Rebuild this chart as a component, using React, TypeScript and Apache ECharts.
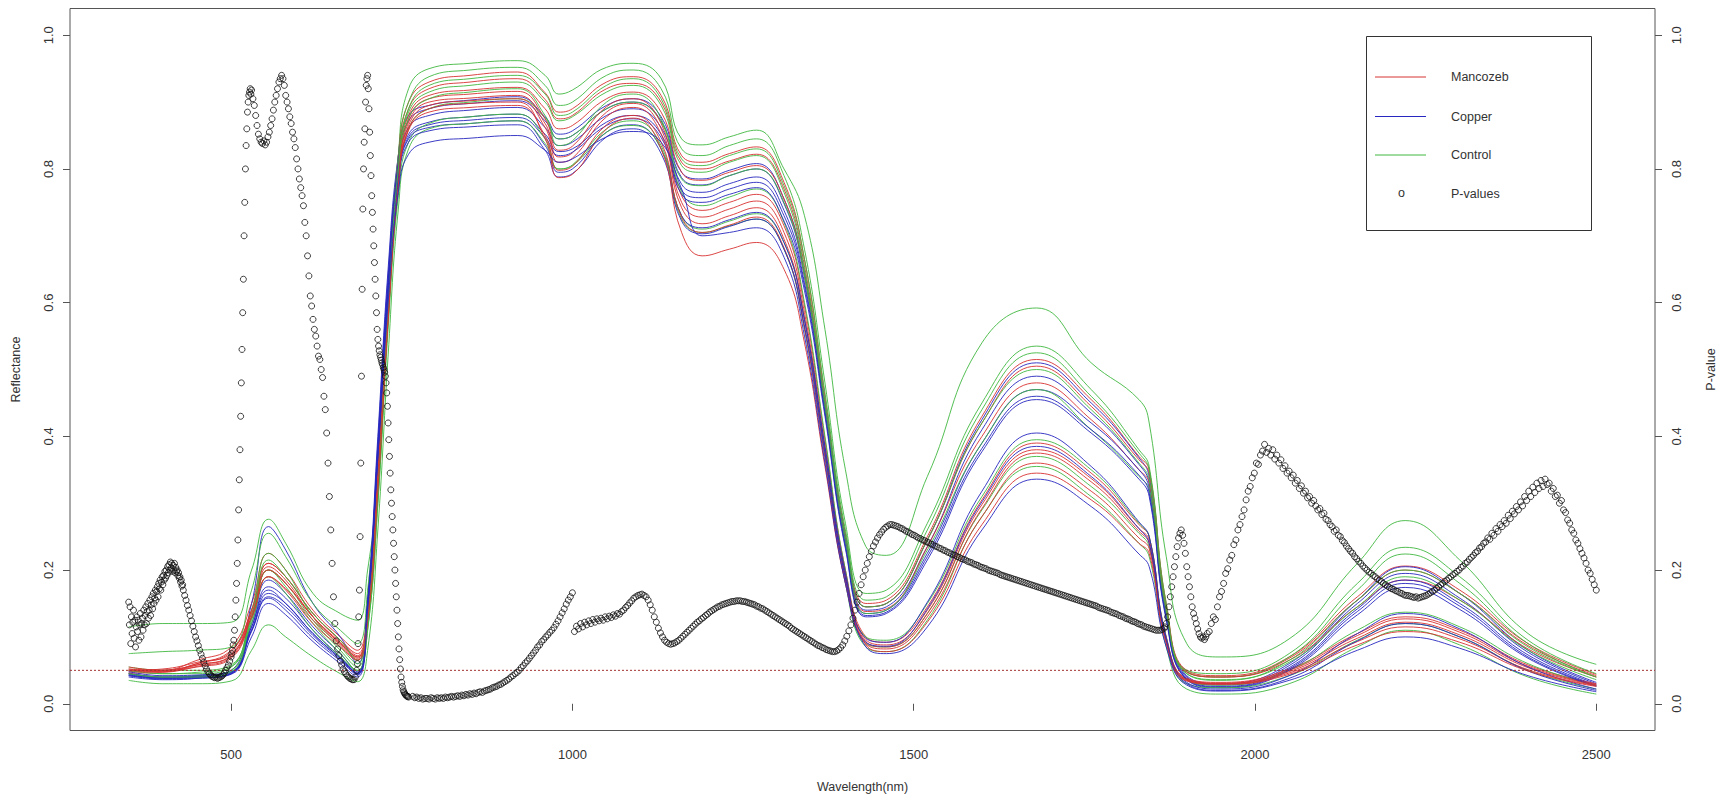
import React, { useEffect, useRef } from "react";
import * as echarts from "echarts";

// Wavelength knots (nm) at which each reflectance curve was read
const WAVELENGTHS = [350, 400, 450, 500, 530, 555, 580, 620, 660, 685, 700, 715, 730, 745, 760, 790, 850, 920, 960, 980, 1000, 1050, 1090, 1130, 1160, 1190, 1230, 1270, 1310, 1340, 1370, 1400, 1430, 1460, 1520, 1600, 1680, 1760, 1830, 1845, 1870, 1900, 1950, 2050, 2150, 2220, 2300, 2400, 2500];

const CONTROL = [
  [0.115, 0.12, 0.12, 0.122, 0.2, 0.276, 0.24, 0.165, 0.135, 0.125, 0.2, 0.33, 0.58, 0.82, 0.92, 0.95, 0.958, 0.962, 0.94, 0.912, 0.918, 0.952, 0.958, 0.935, 0.845, 0.836, 0.848, 0.858, 0.8, 0.73, 0.56, 0.35, 0.235, 0.222, 0.34, 0.54, 0.592, 0.51, 0.455, 0.42, 0.22, 0.09, 0.07, 0.097, 0.21, 0.274, 0.215, 0.105, 0.059],
  [0.075, 0.078, 0.08, 0.085, 0.17, 0.255, 0.22, 0.15, 0.11, 0.09, 0.17, 0.36, 0.62, 0.82, 0.9, 0.938, 0.948, 0.952, 0.925, 0.895, 0.9, 0.94, 0.948, 0.92, 0.83, 0.82, 0.835, 0.845, 0.79, 0.68, 0.48, 0.27, 0.165, 0.17, 0.27, 0.45, 0.535, 0.47, 0.38, 0.355, 0.15, 0.05, 0.045, 0.075, 0.18, 0.234, 0.19, 0.095, 0.045],
  [0.05, 0.045, 0.045, 0.055, 0.14, 0.225, 0.2, 0.13, 0.085, 0.06, 0.13, 0.33, 0.6, 0.8, 0.89, 0.925, 0.935, 0.94, 0.912, 0.88, 0.885, 0.925, 0.935, 0.905, 0.815, 0.805, 0.82, 0.83, 0.775, 0.665, 0.465, 0.26, 0.155, 0.16, 0.26, 0.44, 0.525, 0.46, 0.375, 0.35, 0.145, 0.048, 0.04, 0.07, 0.17, 0.224, 0.18, 0.09, 0.04],
  [0.055, 0.05, 0.05, 0.058, 0.13, 0.2, 0.18, 0.125, 0.08, 0.055, 0.12, 0.31, 0.57, 0.77, 0.86, 0.89, 0.9, 0.905, 0.876, 0.845, 0.85, 0.89, 0.9, 0.87, 0.785, 0.775, 0.79, 0.8, 0.75, 0.64, 0.44, 0.24, 0.135, 0.14, 0.23, 0.39, 0.47, 0.41, 0.34, 0.32, 0.13, 0.045, 0.036, 0.062, 0.145, 0.19, 0.155, 0.08, 0.036],
  [0.045, 0.04, 0.042, 0.05, 0.12, 0.19, 0.165, 0.11, 0.07, 0.05, 0.11, 0.3, 0.58, 0.79, 0.875, 0.905, 0.915, 0.92, 0.88, 0.835, 0.842, 0.9, 0.912, 0.875, 0.765, 0.745, 0.758, 0.77, 0.72, 0.6, 0.4, 0.2, 0.1, 0.095, 0.15, 0.31, 0.395, 0.35, 0.27, 0.25, 0.1, 0.035, 0.028, 0.05, 0.11, 0.137, 0.115, 0.06, 0.027],
  [0.05, 0.045, 0.047, 0.055, 0.125, 0.2, 0.175, 0.12, 0.075, 0.05, 0.11, 0.3, 0.56, 0.76, 0.84, 0.868, 0.878, 0.882, 0.845, 0.8, 0.806, 0.86, 0.872, 0.835, 0.73, 0.71, 0.722, 0.733, 0.69, 0.575, 0.38, 0.19, 0.09, 0.085, 0.135, 0.29, 0.37, 0.325, 0.255, 0.235, 0.095, 0.03, 0.024, 0.042, 0.095, 0.12, 0.1, 0.05, 0.022],
  [0.035, 0.03, 0.03, 0.034, 0.08, 0.118, 0.1, 0.07, 0.045, 0.033, 0.08, 0.26, 0.52, 0.74, 0.83, 0.86, 0.868, 0.872, 0.838, 0.8, 0.805, 0.855, 0.865, 0.83, 0.725, 0.705, 0.715, 0.725, 0.68, 0.56, 0.37, 0.18, 0.085, 0.078, 0.125, 0.28, 0.355, 0.31, 0.24, 0.22, 0.085, 0.022, 0.0145, 0.03, 0.085, 0.11, 0.088, 0.04, 0.0145],
  [0.045, 0.04, 0.04, 0.048, 0.13, 0.215, 0.19, 0.135, 0.095, 0.065, 0.13, 0.32, 0.59, 0.8, 0.885, 0.915, 0.925, 0.93, 0.9, 0.872, 0.878, 0.915, 0.925, 0.895, 0.805, 0.795, 0.81, 0.82, 0.765, 0.65, 0.45, 0.25, 0.145, 0.15, 0.245, 0.42, 0.5, 0.44, 0.36, 0.335, 0.14, 0.045, 0.035, 0.065, 0.155, 0.2, 0.165, 0.085, 0.04],
];

const MANCOZEB = [
  [0.05, 0.05, 0.065, 0.085, 0.15, 0.225, 0.2, 0.14, 0.1, 0.08, 0.15, 0.36, 0.62, 0.82, 0.9, 0.93, 0.94, 0.945, 0.914, 0.885, 0.89, 0.93, 0.938, 0.91, 0.82, 0.81, 0.823, 0.833, 0.78, 0.665, 0.46, 0.255, 0.15, 0.155, 0.25, 0.43, 0.515, 0.455, 0.37, 0.35, 0.15, 0.05, 0.042, 0.07, 0.16, 0.206, 0.17, 0.09, 0.044],
  [0.052, 0.048, 0.06, 0.078, 0.14, 0.21, 0.19, 0.135, 0.095, 0.075, 0.14, 0.35, 0.61, 0.81, 0.89, 0.92, 0.93, 0.935, 0.904, 0.875, 0.88, 0.92, 0.928, 0.9, 0.81, 0.8, 0.812, 0.822, 0.77, 0.655, 0.45, 0.25, 0.145, 0.15, 0.245, 0.42, 0.505, 0.445, 0.365, 0.345, 0.145, 0.048, 0.04, 0.068, 0.155, 0.2, 0.165, 0.087, 0.042],
  [0.048, 0.05, 0.058, 0.072, 0.135, 0.205, 0.185, 0.13, 0.09, 0.07, 0.14, 0.34, 0.6, 0.8, 0.88, 0.91, 0.918, 0.922, 0.89, 0.86, 0.865, 0.905, 0.915, 0.885, 0.795, 0.783, 0.795, 0.805, 0.755, 0.64, 0.44, 0.24, 0.138, 0.142, 0.235, 0.4, 0.48, 0.425, 0.35, 0.33, 0.14, 0.047, 0.04, 0.065, 0.145, 0.185, 0.155, 0.082, 0.04],
  [0.055, 0.05, 0.055, 0.068, 0.13, 0.2, 0.18, 0.13, 0.09, 0.068, 0.13, 0.33, 0.59, 0.79, 0.875, 0.905, 0.912, 0.916, 0.875, 0.828, 0.834, 0.893, 0.905, 0.868, 0.76, 0.738, 0.75, 0.762, 0.715, 0.595, 0.395, 0.2, 0.1, 0.092, 0.145, 0.305, 0.39, 0.345, 0.268, 0.25, 0.1, 0.038, 0.032, 0.052, 0.105, 0.13, 0.11, 0.058, 0.03],
  [0.05, 0.052, 0.062, 0.075, 0.14, 0.21, 0.19, 0.135, 0.095, 0.072, 0.13, 0.33, 0.585, 0.785, 0.87, 0.9, 0.906, 0.91, 0.868, 0.818, 0.824, 0.885, 0.898, 0.86, 0.75, 0.728, 0.74, 0.752, 0.705, 0.585, 0.385, 0.195, 0.096, 0.088, 0.14, 0.298, 0.38, 0.337, 0.262, 0.245, 0.098, 0.037, 0.031, 0.05, 0.102, 0.127, 0.107, 0.056, 0.029],
  [0.046, 0.047, 0.056, 0.07, 0.128, 0.19, 0.172, 0.125, 0.088, 0.066, 0.125, 0.325, 0.58, 0.78, 0.865, 0.895, 0.902, 0.905, 0.862, 0.81, 0.816, 0.878, 0.892, 0.852, 0.742, 0.718, 0.73, 0.742, 0.695, 0.575, 0.378, 0.19, 0.093, 0.085, 0.135, 0.292, 0.375, 0.332, 0.258, 0.24, 0.095, 0.036, 0.03, 0.048, 0.098, 0.122, 0.103, 0.054, 0.028],
  [0.052, 0.05, 0.06, 0.08, 0.135, 0.2, 0.18, 0.13, 0.092, 0.07, 0.125, 0.32, 0.575, 0.775, 0.858, 0.885, 0.892, 0.895, 0.85, 0.798, 0.804, 0.866, 0.88, 0.84, 0.728, 0.705, 0.716, 0.728, 0.682, 0.562, 0.368, 0.185, 0.09, 0.082, 0.13, 0.28, 0.36, 0.318, 0.248, 0.232, 0.092, 0.035, 0.03, 0.046, 0.093, 0.115, 0.097, 0.051, 0.027],
  [0.05, 0.048, 0.058, 0.073, 0.13, 0.19, 0.17, 0.12, 0.085, 0.065, 0.125, 0.32, 0.575, 0.775, 0.86, 0.89, 0.898, 0.9, 0.845, 0.787, 0.792, 0.86, 0.876, 0.83, 0.705, 0.67, 0.68, 0.69, 0.65, 0.54, 0.355, 0.18, 0.088, 0.078, 0.122, 0.268, 0.345, 0.305, 0.24, 0.225, 0.09, 0.034, 0.029, 0.044, 0.088, 0.108, 0.092, 0.049, 0.026],
];

const COPPER = [
  [0.045, 0.04, 0.042, 0.05, 0.15, 0.265, 0.23, 0.15, 0.1, 0.06, 0.16, 0.4, 0.65, 0.82, 0.88, 0.895, 0.903, 0.908, 0.878, 0.852, 0.857, 0.895, 0.905, 0.878, 0.795, 0.785, 0.798, 0.808, 0.755, 0.645, 0.45, 0.25, 0.145, 0.15, 0.245, 0.425, 0.51, 0.45, 0.368, 0.34, 0.14, 0.042, 0.03, 0.06, 0.155, 0.205, 0.165, 0.08, 0.032],
  [0.042, 0.038, 0.04, 0.047, 0.12, 0.185, 0.165, 0.115, 0.075, 0.048, 0.15, 0.39, 0.64, 0.81, 0.872, 0.89, 0.898, 0.902, 0.872, 0.845, 0.85, 0.89, 0.9, 0.872, 0.787, 0.776, 0.79, 0.8, 0.748, 0.64, 0.445, 0.245, 0.14, 0.145, 0.235, 0.41, 0.49, 0.435, 0.358, 0.33, 0.135, 0.04, 0.028, 0.057, 0.15, 0.195, 0.158, 0.077, 0.03],
  [0.04, 0.036, 0.038, 0.045, 0.115, 0.175, 0.158, 0.11, 0.07, 0.045, 0.15, 0.38, 0.63, 0.8, 0.862, 0.88, 0.888, 0.892, 0.862, 0.835, 0.84, 0.88, 0.89, 0.862, 0.777, 0.765, 0.778, 0.788, 0.738, 0.63, 0.44, 0.24, 0.135, 0.14, 0.225, 0.39, 0.47, 0.42, 0.35, 0.322, 0.13, 0.038, 0.026, 0.054, 0.142, 0.185, 0.15, 0.073, 0.028],
  [0.043, 0.039, 0.04, 0.046, 0.11, 0.165, 0.15, 0.105, 0.068, 0.045, 0.145, 0.37, 0.62, 0.79, 0.852, 0.87, 0.878, 0.882, 0.852, 0.826, 0.83, 0.87, 0.88, 0.852, 0.768, 0.757, 0.77, 0.78, 0.73, 0.625, 0.435, 0.235, 0.132, 0.137, 0.22, 0.382, 0.46, 0.41, 0.342, 0.315, 0.128, 0.037, 0.025, 0.052, 0.138, 0.18, 0.146, 0.07, 0.027],
  [0.046, 0.04, 0.041, 0.047, 0.11, 0.16, 0.145, 0.102, 0.066, 0.044, 0.145, 0.37, 0.615, 0.785, 0.848, 0.866, 0.873, 0.877, 0.847, 0.82, 0.825, 0.865, 0.875, 0.847, 0.762, 0.75, 0.762, 0.772, 0.722, 0.618, 0.43, 0.232, 0.13, 0.135, 0.215, 0.377, 0.455, 0.405, 0.336, 0.31, 0.125, 0.036, 0.024, 0.05, 0.133, 0.174, 0.141, 0.068, 0.026],
  [0.048, 0.042, 0.043, 0.048, 0.115, 0.17, 0.15, 0.105, 0.068, 0.046, 0.15, 0.38, 0.62, 0.785, 0.845, 0.862, 0.868, 0.872, 0.835, 0.795, 0.8, 0.855, 0.866, 0.83, 0.73, 0.712, 0.724, 0.735, 0.69, 0.575, 0.385, 0.195, 0.098, 0.092, 0.152, 0.318, 0.405, 0.355, 0.272, 0.25, 0.098, 0.032, 0.022, 0.042, 0.105, 0.135, 0.112, 0.055, 0.022],
  [0.044, 0.038, 0.039, 0.045, 0.108, 0.158, 0.14, 0.098, 0.064, 0.043, 0.145, 0.375, 0.615, 0.78, 0.84, 0.857, 0.863, 0.866, 0.828, 0.788, 0.793, 0.848, 0.86, 0.823, 0.722, 0.703, 0.714, 0.725, 0.68, 0.565, 0.375, 0.188, 0.092, 0.086, 0.142, 0.302, 0.385, 0.34, 0.262, 0.24, 0.094, 0.03, 0.02, 0.038, 0.094, 0.12, 0.1, 0.049, 0.02],
  [0.042, 0.037, 0.038, 0.044, 0.1, 0.15, 0.133, 0.093, 0.06, 0.04, 0.14, 0.37, 0.6, 0.765, 0.822, 0.84, 0.846, 0.85, 0.828, 0.81, 0.815, 0.848, 0.856, 0.84, 0.77, 0.7, 0.705, 0.712, 0.668, 0.55, 0.36, 0.18, 0.085, 0.075, 0.115, 0.26, 0.336, 0.295, 0.224, 0.205, 0.085, 0.028, 0.019, 0.035, 0.08, 0.1, 0.083, 0.042, 0.018],
];

// P-values, read in runs: first wavelength, step (nm), values
const P_350 = [0.152, 0.118, 0.145, 0.09, 0.13, 0.105, 0.122, 0.14, 0.098, 0.125, 0.085, 0.115, 0.13, 0.108, 0.125, 0.095, 0.118, 0.135, 0.1, 0.12, 0.128, 0.11, 0.14, 0.118, 0.132, 0.145, 0.12, 0.138, 0.15, 0.128, 0.14, 0.155, 0.132, 0.148, 0.16, 0.142, 0.165, 0.15, 0.158, 0.17, 0.155, 0.168, 0.175, 0.16, 0.18, 0.172, 0.185, 0.17, 0.182, 0.19, 0.178, 0.192, 0.185, 0.198, 0.188, 0.2, 0.192, 0.205, 0.196, 0.208, 0.2, 0.212, 0.203, 0.21, 0.198, 0.207, 0.2, 0.21, 0.196, 0.204, 0.198, 0.2, 0.192, 0.196, 0.188, 0.19, 0.182, 0.185, 0.176, 0.178, 0.17];
const P_432 = [0.162, 0.155, 0.147, 0.14, 0.132, 0.124, 0.116, 0.108, 0.1, 0.094, 0.087, 0.08, 0.074, 0.068, 0.062, 0.057, 0.052, 0.048, 0.045, 0.043, 0.041, 0.04, 0.039, 0.04, 0.038, 0.039, 0.04, 0.041, 0.043, 0.046, 0.05, 0.054, 0.058, 0.064, 0.07];
const P_501 = [0.075, 0.08, 0.088, 0.095, 0.11, 0.13, 0.155, 0.18, 0.21, 0.245, 0.29, 0.335, 0.38, 0.43, 0.48, 0.53, 0.585, 0.635, 0.7, 0.75, 0.8, 0.835, 0.86, 0.885, 0.9, 0.91, 0.915, 0.92, 0.912, 0.918];
const P_532 = [0.905, 0.895, 0.88, 0.865, 0.852, 0.845, 0.84, 0.838, 0.842, 0.836, 0.84, 0.848, 0.855, 0.865, 0.875, 0.888, 0.9, 0.91, 0.92, 0.93, 0.935, 0.94, 0.935, 0.925, 0.91, 0.9, 0.89, 0.878, 0.868, 0.855, 0.845, 0.832, 0.815, 0.8, 0.785, 0.772, 0.76, 0.745, 0.72, 0.7, 0.67, 0.64, 0.61, 0.595, 0.575, 0.56, 0.55, 0.535, 0.52, 0.515, 0.5, 0.488, 0.46, 0.44, 0.405, 0.36, 0.31, 0.26, 0.21, 0.16, 0.12, 0.094, 0.082, 0.072, 0.064, 0.058, 0.052, 0.048, 0.045, 0.042, 0.04, 0.038, 0.037, 0.036, 0.036, 0.04, 0.05];
const P_685 = [0.06, 0.09, 0.13, 0.17, 0.25, 0.36, 0.49, 0.62, 0.74, 0.8, 0.84, 0.86, 0.9, 0.925, 0.935, 0.94, 0.92, 0.89, 0.855, 0.82, 0.79, 0.76, 0.735, 0.71, 0.685, 0.66, 0.635, 0.61, 0.585, 0.56, 0.545, 0.535, 0.528, 0.522, 0.518, 0.514, 0.51, 0.507, 0.503, 0.5, 0.496, 0.49, 0.48, 0.465, 0.445, 0.42, 0.395, 0.37, 0.345, 0.32, 0.3, 0.28, 0.26, 0.24, 0.22, 0.2, 0.18, 0.16, 0.14, 0.12, 0.1, 0.082, 0.066, 0.052, 0.04, 0.032, 0.026, 0.021, 0.018, 0.016, 0.014, 0.013, 0.012, 0.011, 0.011, 0.01];
const P_766 = [0.011, 0.009, 0.01, 0.008, 0.009, 0.007, 0.008, 0.008, 0.007, 0.009, 0.008, 0.007, 0.009, 0.008, 0.009, 0.008, 0.01, 0.009, 0.01, 0.011, 0.01, 0.011, 0.012, 0.011, 0.013, 0.012, 0.014, 0.013, 0.015, 0.014, 0.016, 0.015, 0.017, 0.018, 0.017, 0.019, 0.02, 0.021, 0.022, 0.024, 0.025, 0.026, 0.028, 0.029, 0.031, 0.033, 0.035, 0.037, 0.04, 0.042, 0.045, 0.047, 0.05, 0.054, 0.057, 0.061, 0.064, 0.068, 0.072, 0.076, 0.08, 0.085, 0.088, 0.093, 0.096, 0.1, 0.103, 0.107, 0.11, 0.114, 0.119, 0.124, 0.13, 0.136, 0.142, 0.149, 0.155, 0.16, 0.166];
const P_1003 = [0.108, 0.116, 0.112, 0.12, 0.115, 0.122, 0.118, 0.124, 0.12, 0.126, 0.122, 0.127, 0.124, 0.128, 0.125, 0.13, 0.127, 0.131, 0.129, 0.133, 0.131, 0.135, 0.134, 0.138, 0.14, 0.144, 0.147, 0.151, 0.154, 0.158, 0.16, 0.162, 0.163, 0.164, 0.162, 0.16, 0.155, 0.148, 0.14, 0.13, 0.122, 0.113, 0.106, 0.1, 0.095, 0.092, 0.09, 0.089, 0.09, 0.091];
const P_1153 = [0.093, 0.095, 0.098, 0.101, 0.104, 0.107, 0.11, 0.113, 0.116, 0.119, 0.122, 0.124, 0.127, 0.129, 0.132, 0.134, 0.137, 0.139, 0.141, 0.143, 0.145, 0.146, 0.148, 0.149, 0.15, 0.151, 0.152, 0.153, 0.153, 0.154, 0.154, 0.154, 0.153, 0.153, 0.152, 0.151, 0.15, 0.149, 0.148, 0.146, 0.145, 0.143, 0.142, 0.14, 0.138, 0.136, 0.134, 0.132, 0.13, 0.128];
const P_1303 = [0.126, 0.124, 0.122, 0.12, 0.118, 0.116, 0.113, 0.111, 0.109, 0.107, 0.105, 0.103, 0.101, 0.099, 0.097, 0.095, 0.093, 0.091, 0.089, 0.087, 0.086, 0.084, 0.083, 0.081, 0.08, 0.079, 0.078, 0.078, 0.079, 0.081, 0.084, 0.088, 0.094, 0.101, 0.109, 0.118, 0.128, 0.14, 0.152, 0.165, 0.178, 0.19, 0.2, 0.21, 0.22, 0.228, 0.236, 0.242, 0.248, 0.253];
const P_1453 = [0.257, 0.261, 0.264, 0.266, 0.268, 0.268, 0.267, 0.266, 0.265, 0.263, 0.262, 0.26, 0.258, 0.257, 0.255, 0.253, 0.252, 0.25, 0.248, 0.247, 0.245, 0.244, 0.242, 0.241, 0.239, 0.238, 0.236, 0.235, 0.233, 0.232, 0.23, 0.229, 0.227, 0.226, 0.224, 0.223, 0.222, 0.22, 0.219, 0.217, 0.216, 0.215, 0.213, 0.212, 0.211, 0.209, 0.208, 0.207, 0.205, 0.204];
const P_1603 = [0.203, 0.202, 0.2, 0.199, 0.198, 0.197, 0.196, 0.195, 0.193, 0.192, 0.191, 0.19, 0.189, 0.188, 0.187, 0.186, 0.185, 0.184, 0.183, 0.182, 0.181, 0.18, 0.179, 0.178, 0.177, 0.176, 0.175, 0.174, 0.173, 0.172, 0.171, 0.17, 0.169, 0.168, 0.167, 0.166, 0.165, 0.164, 0.163, 0.162, 0.161, 0.16, 0.159, 0.158, 0.157, 0.156, 0.155, 0.154, 0.153, 0.152];
const P_1753 = [0.151, 0.15, 0.149, 0.148, 0.147, 0.146, 0.144, 0.143, 0.142, 0.141, 0.14, 0.139, 0.137, 0.136, 0.135, 0.134, 0.132, 0.131, 0.13, 0.128, 0.127, 0.126, 0.124, 0.123, 0.122, 0.12, 0.119, 0.118, 0.116, 0.115, 0.114, 0.113, 0.112, 0.111, 0.11, 0.11, 0.11, 0.111, 0.113];
const P_1868 = [0.115, 0.12, 0.13, 0.145, 0.16, 0.175, 0.19, 0.205, 0.22, 0.235, 0.248, 0.255, 0.26, 0.252, 0.24, 0.225, 0.205, 0.19, 0.175, 0.16, 0.145, 0.135, 0.128, 0.12, 0.112, 0.105, 0.1, 0.098, 0.1, 0.096, 0.1, 0.105];
const P_1933 = [0.108, 0.12, 0.13, 0.126, 0.145, 0.16, 0.168, 0.18, 0.195, 0.202, 0.215, 0.222, 0.238, 0.245, 0.26, 0.268, 0.28, 0.29, 0.305, 0.318, 0.325, 0.338, 0.345, 0.36, 0.358, 0.372, 0.378, 0.388, 0.376, 0.382, 0.372, 0.38, 0.366, 0.372, 0.36, 0.365, 0.352, 0.356, 0.345, 0.348, 0.338, 0.342, 0.33, 0.334, 0.322, 0.326, 0.315, 0.318, 0.308, 0.31, 0.3, 0.304, 0.296, 0.29, 0.292, 0.283, 0.285, 0.276, 0.274, 0.268, 0.265, 0.258, 0.26, 0.252, 0.25, 0.244, 0.241, 0.236, 0.232, 0.228, 0.225, 0.22, 0.217, 0.213, 0.21, 0.206, 0.203, 0.2, 0.197, 0.195, 0.192, 0.19, 0.187, 0.185, 0.183, 0.18, 0.178, 0.176, 0.174, 0.172, 0.171, 0.169, 0.168, 0.166, 0.165, 0.163, 0.162, 0.162, 0.161, 0.16, 0.159, 0.16, 0.158, 0.159, 0.16, 0.161, 0.162, 0.164, 0.166, 0.168, 0.17, 0.173, 0.175, 0.178, 0.18, 0.183, 0.185, 0.188, 0.19, 0.193, 0.195, 0.198, 0.2, 0.204, 0.206, 0.21, 0.212, 0.216, 0.219, 0.222, 0.226, 0.228, 0.233, 0.235, 0.24, 0.242, 0.248, 0.246, 0.255, 0.252, 0.262, 0.258, 0.268, 0.265, 0.274, 0.27, 0.282, 0.277, 0.288, 0.284, 0.295, 0.29, 0.302, 0.296, 0.31, 0.304, 0.318, 0.31, 0.324, 0.316, 0.33, 0.322, 0.334, 0.325, 0.336, 0.328, 0.33, 0.318, 0.322, 0.31, 0.312, 0.3, 0.304, 0.29, 0.286, 0.275, 0.27, 0.26, 0.255, 0.245, 0.24, 0.232, 0.225, 0.218, 0.21, 0.2, 0.195, 0.186, 0.178, 0.17];

const P_RUNS: [number, number, number[]][] = [
  [350, 1, P_350],
  [432, 2, P_432],
  [501, 1, P_501],
  [532, 2, P_532],
  [685, 1, P_685],
  [766, 3, P_766],
  [1003, 3, P_1003],
  [1153, 3, P_1153],
  [1303, 3, P_1303],
  [1453, 3, P_1453],
  [1603, 3, P_1603],
  [1753, 3, P_1753],
  [1868, 2, P_1868],
  [1933, 3, P_1933],
];

const X_TICKS = [500, 1000, 1500, 2000, 2500];
const Y_TICKS = [0, 0.2, 0.4, 0.6, 0.8, 1.0];
const THRESHOLD = 0.05;
const X_RANGE = [264, 2586];
const Y_RANGE = [-0.04, 1.04];

const RED = "#d83232";
const BLUE = "#2828c0";
const GREEN = "#40b840";
const FONT = '"Liberation Sans", Arial, Helvetica, sans-serif';
const TEXT = "#333";

export default function App() {
  const ref = useRef<HTMLDivElement>(null);
  useEffect(() => {
    if (!ref.current) return;
    const chart = echarts.init(ref.current, null, { renderer: "svg" });

    const curve = (vals: number[], color: string, name: string) => ({
      type: "line",
      name,
      data: WAVELENGTHS.map((w, i) => [w, vals[i]]),
      smooth: 0.45,
      symbol: "none",
      silent: true,
      lineStyle: { width: 1, color, opacity: 0.9 },
      z: 2,
    });

    const curves: any[] = [];
    for (let k = 0; k < CONTROL.length; k++) {
      curves.push(curve(CONTROL[k], GREEN, "Control"));
      curves.push(curve(MANCOZEB[k], RED, "Mancozeb"));
      curves.push(curve(COPPER[k], BLUE, "Copper"));
    }

    const pPoints: number[][] = [];
    P_RUNS.forEach(([start, step, vals]) => {
      vals.forEach((v, i) => pPoints.push([start + i * step, v]));
    });

    const axisText = { color: TEXT, fontSize: 13, fontFamily: FONT };

    const legendRows = [
      { label: "Mancozeb", color: RED, y: 77 },
      { label: "Copper", color: BLUE, y: 116.5 },
      { label: "Control", color: GREEN, y: 155 },
    ];
    const graphics: any[] = [
      {
        type: "rect",
        shape: { x: 1366.5, y: 36.5, width: 225, height: 194 },
        style: { fill: "#fff", stroke: "#333", lineWidth: 1 },
        z: 100,
      },
    ];
    legendRows.forEach((r) => {
      graphics.push({
        type: "line",
        shape: { x1: 1375, y1: r.y, x2: 1426, y2: r.y },
        style: { stroke: r.color, lineWidth: 1 },
        z: 101,
      });
      graphics.push({
        type: "text",
        x: 1451,
        y: r.y,
        style: { text: r.label, fill: TEXT, fontSize: 12.5, fontFamily: FONT, verticalAlign: "middle", align: "left" },
        z: 101,
      });
    });
    graphics.push({
      type: "text",
      x: 1401.5,
      y: 193,
      style: { text: "o", fill: TEXT, fontSize: 12.5, fontFamily: FONT, verticalAlign: "middle", align: "center" },
      z: 101,
    });
    graphics.push({
      type: "text",
      x: 1451,
      y: 193.5,
      style: { text: "P-values", fill: TEXT, fontSize: 12.5, fontFamily: FONT, verticalAlign: "middle", align: "left" },
      z: 101,
    });

    const yAxisBase = (position: "left" | "right", name: string, gap: number) => ({
      type: "value",
      position,
      min: Y_RANGE[0],
      max: Y_RANGE[1],
      name,
      nameLocation: "middle",
      nameGap: gap,
      nameRotate: 90,
      nameTextStyle: { ...axisText, fontSize: 12.5 },
      axisLine: { show: false },
      axisTick: { show: true, length: 7, customValues: Y_TICKS, lineStyle: { color: "#555" } },
      axisLabel: { ...axisText, customValues: Y_TICKS, rotate: 90, margin: 15, formatter: (v: number) => v.toFixed(1) },
      splitLine: { show: false },
    });

    const option: any = {
      animation: false,
      backgroundColor: "#fff",
      textStyle: { fontFamily: FONT },
      grid: {
        left: 70,
        right: 75,
        top: 8.5,
        bottom: 69.5,
        show: true,
        borderColor: "#555",
        borderWidth: 1,
        backgroundColor: "transparent",
      },
      xAxis: {
        type: "value",
        min: X_RANGE[0],
        max: X_RANGE[1],
        name: "Wavelength(nm)",
        nameLocation: "middle",
        nameGap: 50,
        nameTextStyle: { ...axisText, fontSize: 12.5 },
        axisLine: { show: false },
        axisTick: { show: true, length: 7, customValues: X_TICKS, lineStyle: { color: "#555" } },
        axisLabel: { ...axisText, customValues: X_TICKS, margin: 17, formatter: (v: number) => String(v) },
        splitLine: { show: false },
      },
      yAxis: [yAxisBase("left", "Reflectance", 48), yAxisBase("right", "P-value", 49)],
      series: [
        ...curves,
        {
          type: "scatter",
          name: "P-values",
          yAxisIndex: 1,
          data: pPoints,
          symbol: "circle",
          symbolSize: 6,
          silent: true,
          itemStyle: { color: "rgba(0,0,0,0)", borderColor: "#111", borderWidth: 1 },
          z: 5,
        },
        {
          type: "line",
          name: "threshold",
          data: [
            [X_RANGE[0], THRESHOLD],
            [X_RANGE[1], THRESHOLD],
          ],
          symbol: "none",
          silent: true,
          lineStyle: { color: "#a33030", width: 1, type: [2, 2] },
          z: 4,
        },
      ],
      graphic: graphics,
    };

    chart.setOption(option);
    return () => chart.dispose();
  }, []);

  return (
    <div
      ref={ref}
      style={{ position: "fixed", left: 0, top: 0, width: 1730, height: 800, background: "#fff" }}
    />
  );
}
